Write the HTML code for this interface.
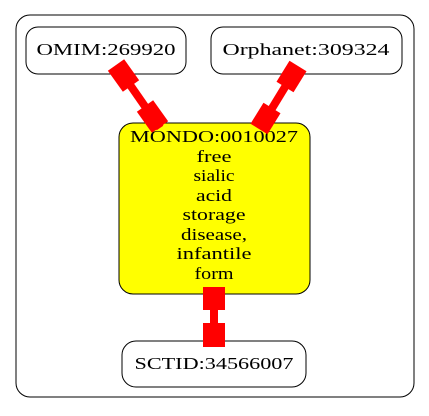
<!DOCTYPE html>
<html><head><meta charset="utf-8"><style>
body{margin:0;background:#fff}
svg{display:block}
text{font-family:"Liberation Serif",serif;font-size:17px;text-anchor:middle}
</style></head><body>
<svg width="429" height="416" viewBox="0 0 429 416">
<rect x="16" y="15" width="398" height="382" rx="14" fill="#fff" stroke="#000"/>
<g>
<rect x="26" y="27" width="160" height="47" rx="12" fill="#fff" stroke="#000"/>
<text x="106" y="55" textLength="139" lengthAdjust="spacingAndGlyphs">OMIM:269920</text></g>
<g>
<rect x="211" y="27" width="191" height="47" rx="12" fill="#fff" stroke="#000"/>
<text x="306" y="55" textLength="167" lengthAdjust="spacingAndGlyphs">Orphanet:309324</text></g>
<g>
<rect x="119" y="123" width="191" height="171" rx="14" fill="#ff0" stroke="#000"/>
<text x="214" y="142" textLength="168" lengthAdjust="spacingAndGlyphs">MONDO:0010027</text>
<text x="214" y="162" textLength="35" lengthAdjust="spacingAndGlyphs">free</text>
<text x="214" y="181" textLength="41" lengthAdjust="spacingAndGlyphs">sialic</text>
<text x="214" y="201" textLength="36" lengthAdjust="spacingAndGlyphs">acid</text>
<text x="214" y="220" textLength="63" lengthAdjust="spacingAndGlyphs">storage</text>
<text x="214" y="240" textLength="66" lengthAdjust="spacingAndGlyphs">disease,</text>
<text x="214" y="259" textLength="75" lengthAdjust="spacingAndGlyphs">infantile</text>
<text x="214" y="279" textLength="39" lengthAdjust="spacingAndGlyphs">form</text></g>
<g>
<rect x="122" y="341" width="184" height="46" rx="14" fill="#fff" stroke="#000"/>
<text x="214" y="369" textLength="159" lengthAdjust="spacingAndGlyphs">SCTID:34566007</text></g>
<g>
<line x1="119" y1="69" x2="160" y2="128" stroke="red" stroke-width="8"/>
<line x1="116" y1="65" x2="131" y2="86" stroke="red" stroke-width="20"/>
<line x1="145" y1="106" x2="160" y2="127" stroke="red" stroke-width="20"/>
</g>
<g>
<line x1="296" y1="69" x2="260" y2="128" stroke="red" stroke-width="8"/>
<line x1="298" y1="66" x2="285" y2="87" stroke="red" stroke-width="20"/>
<line x1="272" y1="108" x2="259" y2="129" stroke="red" stroke-width="20"/>
</g>
<g>
<line x1="214" y1="287" x2="214" y2="347" stroke="red" stroke-width="8"/>
<line x1="214" y1="287" x2="214" y2="310" stroke="red" stroke-width="22"/>
<line x1="214" y1="323" x2="214" y2="347" stroke="red" stroke-width="22"/>
</g>
</svg>
</body></html>
